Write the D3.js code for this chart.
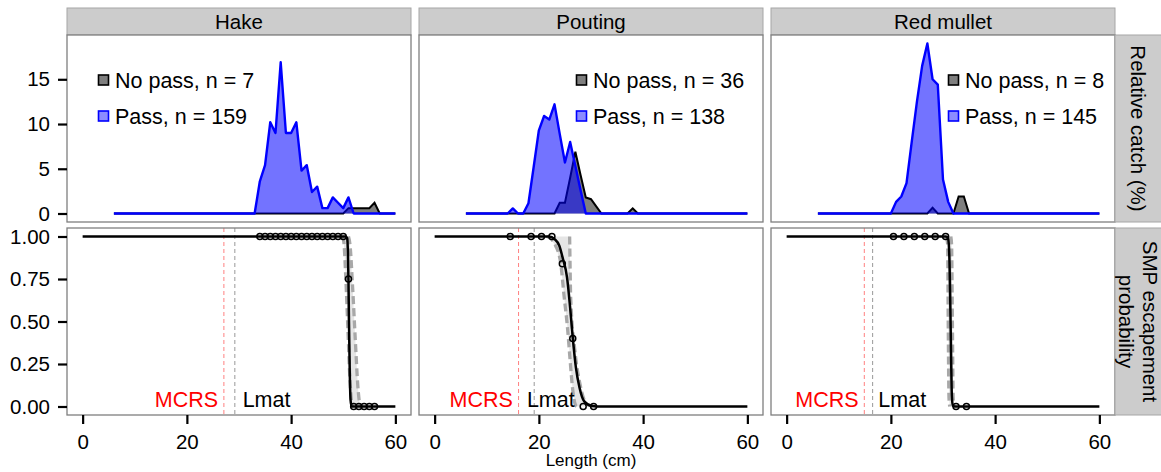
<!DOCTYPE html>
<html>
<head>
<meta charset="utf-8">
<script src="https://cdn.jsdelivr.net/npm/d3@7/dist/d3.min.js"></script>
<style>
  body { margin: 0; background: #fff; }
  text { font-family: "Liberation Sans", Arial, Helvetica, sans-serif; }
</style>
</head>
<body>
<svg id="chart" width="1161" height="472"></svg>
<script>
// ---- data ----
var species = ["Hake", "Pouting", "Red mullet"];
var nPass = [159, 138, 145],
    nNoPass = [7, 36, 8];

// relative catch (%) by length (cm)
var hakePassLen = [6, 33, 34, 35, 36, 37, 38, 39, 40, 41, 42, 43, 44, 45, 46, 47, 48, 49, 50, 51, 52, 60];
var hakePassVal = [0, 0, 3.6, 5.4, 10.2, 9.0, 16.9, 9.0, 9.0, 10.2, 4.8, 5.4, 2.4, 3.0, 0.6, 0.6, 1.8, 1.2, 0.6, 1.8, 0, 0];
var hakeNoPassLen = [6, 50, 51, 52, 53, 54, 55, 56, 57, 60];
var hakeNoPassVal = [0, 0, 0.6, 0.6, 0.6, 0.6, 0.6, 1.2, 0, 0];

var poutPassLen = [6, 14, 15, 16, 17, 18, 19, 20, 21, 22, 23, 24, 25, 26, 27, 28, 29, 60];
var poutPassVal = [0, 0, 0.57, 0, 0, 1.15, 5.2, 9.3, 10.9, 10.5, 12.2, 8.9, 5.7, 8.0, 5.3, 2.6, 0, 0];
var poutNoPassLen = [6, 23, 24, 25, 26, 27, 28, 29, 30, 31, 32, 37, 38, 39, 60];
var poutNoPassVal = [0, 0, 1.2, 1.2, 4.0, 6.9, 4.3, 1.8, 1.6, 0.8, 0, 0, 0.57, 0, 0];

var mulletPassLen = [6, 20, 21, 22, 23, 24, 25, 26, 27, 28, 29, 30, 31, 32, 60];
var mulletPassVal = [0, 0, 1.3, 1.9, 3.4, 8.0, 12.5, 16.5, 19.0, 15.0, 14.4, 3.8, 1.3, 0, 0];
var mulletNoPassLen = [6, 27, 28, 29, 32, 33, 34, 35, 60];
var mulletNoPassVal = [0, 0, 0.65, 0, 0, 1.9, 1.9, 0, 0];

// escapement probability: fitted curve, CI bounds, observed points
var hakeFitLen = [0, 50.5, 50.75, 50.9, 51.0, 51.1, 51.25, 51.4, 51.6, 60];
var hakeFitP   = [1, 1, 0.99, 0.9, 0.75, 0.5, 0.2, 0.04, 0, 0];
var hakeLoLen = [49.8, 50.1, 50.5, 50.9, 51.3, 51.7, 51.9];
var hakeLoP   = [1, 0.97, 0.75, 0.45, 0.15, 0.01, 0];
var hakeHiLen = [51.0, 51.3, 51.8, 52.3, 52.8, 53.2];
var hakeHiP   = [1, 0.95, 0.7, 0.4, 0.12, 0];
var hakeObsLen = [34, 35, 36, 37, 38, 39, 40, 41, 42, 43, 44, 45, 46, 47, 48, 49, 50, 51, 52, 53, 54, 55, 56];
var hakeObsP   = [1, 1, 1, 1, 1, 1, 1, 1, 1, 1, 1, 1, 1, 1, 1, 1, 1, 0.75, 0, 0, 0, 0, 0];

var poutFitLen = [0, 22, 23, 23.9, 24.6, 25.4, 26, 26.5, 27.1, 27.8, 28.7, 30.2, 32, 60];
var poutFitP   = [1, 1, 0.985, 0.947, 0.87, 0.76, 0.58, 0.405, 0.23, 0.11, 0.03, 0.003, 0, 0];
var poutLoLen = [21.5, 21.9, 23.2, 24.2, 24.8, 25.5, 26.0, 26.45, 27.0, 27.3];
var poutLoP   = [1, 0.995, 0.947, 0.84, 0.66, 0.46, 0.27, 0.11, 0.01, 0];
var poutHiLen = [25.9, 26.0, 26.1, 26.9, 27.9, 29.3, 31];
var poutHiP   = [1, 0.8, 0.64, 0.33, 0.13, 0.01, 0];
var poutObsLen = [14.5, 18.5, 20.5, 22.5, 24.5, 26.5, 28.5, 30.5];
var poutObsP   = [1, 1, 1, 1, 0.84, 0.40, 0, 0];

var mulletFitLen = [0, 30.6, 31.0, 31.25, 31.4, 31.55, 31.7, 31.9, 32.2, 60];
var mulletFitP   = [1, 1, 0.985, 0.85, 0.6, 0.3, 0.06, 0.005, 0, 0];
var mulletLoLen = [30.7, 30.9, 31.0, 31.15, 31.3];
var mulletLoP   = [1, 0.95, 0.5, 0.05, 0];
var mulletHiLen = [31.5, 31.65, 31.8, 31.95, 32.1];
var mulletHiP   = [1, 0.95, 0.5, 0.05, 0];
var mulletObsLen = [20.5, 22.5, 24.5, 26.5, 28.5, 30.5, 32.5, 34.5];
var mulletObsP   = [1, 1, 1, 1, 1, 1, 0, 0];

var mcrs = [27.1, 16.1, 14.9],
    lmat = [29.2, 19.1, 16.5],
    lmatLabelAt = [30.7, 17.7, 17.6];

var catchTicks = [0, 5, 10, 15],
    probTicks = [0, 0.25, 0.5, 0.75, 1],
    lenTicks = [0, 20, 40, 60];

// ---- layout ----
var panelLeft = [67, 419, 771],
    panelW = 344, panelH = 187,
    topY = 35, botY = 228,
    stripY = 8, stripH = 27,
    rightStripX = 1115,
    legendX = [31, 157, 177];

function pts(len, val) { return len.map(function(l, i) { return [l, val[i]]; }); }

var catchData = [
  {pass: pts(hakePassLen, hakePassVal), noPass: pts(hakeNoPassLen, hakeNoPassVal)},
  {pass: pts(poutPassLen, poutPassVal), noPass: pts(poutNoPassLen, poutNoPassVal)},
  {pass: pts(mulletPassLen, mulletPassVal), noPass: pts(mulletNoPassLen, mulletNoPassVal)}
];
var probData = [
  {fit: pts(hakeFitLen, hakeFitP), lo: pts(hakeLoLen, hakeLoP), hi: pts(hakeHiLen, hakeHiP), obs: pts(hakeObsLen, hakeObsP)},
  {fit: pts(poutFitLen, poutFitP), lo: pts(poutLoLen, poutLoP), hi: pts(poutHiLen, poutHiP), obs: pts(poutObsLen, poutObsP)},
  {fit: pts(mulletFitLen, mulletFitP), lo: pts(mulletLoLen, mulletLoP), hi: pts(mulletHiLen, mulletHiP), obs: pts(mulletObsLen, mulletObsP)}
];

var svg = d3.select("#chart");

var x = d3.scaleLinear().domain([-3, 63]).range([0, panelW]);
var yTop = d3.scaleLinear().domain([-0.95, 19.95]).range([panelH, 0]);
var yBot = d3.scaleLinear().domain([-0.05, 1.05]).range([panelH, 0]);

var catchArea = d3.area().x(d => x(d[0])).y0(yTop(0)).y1(d => yTop(d[1]));
var catchLine = d3.line().x(d => x(d[0])).y(d => yTop(d[1]));
var probLine = d3.line().x(d => x(d[0])).y(d => yBot(d[1])).curve(d3.curveMonotoneX);
var ribbonLine = d3.line().x(d => x(d[0])).y(d => yBot(d[1]));

function styleAxis(g) {
  g.select(".domain").remove();
  g.selectAll(".tick line").attr("stroke", "#000").attr("stroke-width", 2.2);
  g.selectAll(".tick text").attr("fill", "#000").style("font-size", "20.5px")
    .style("font-family", "'Liberation Sans', Arial, sans-serif");
}

species.forEach(function(name, i) {
  var px = panelLeft[i];

  // strip on top
  svg.append("rect")
    .attr("x", px).attr("y", stripY).attr("width", panelW).attr("height", stripH)
    .attr("fill", "#cccccc").attr("stroke", "#a6a6a6").attr("stroke-width", 1);
  svg.append("text")
    .attr("x", px + panelW / 2).attr("y", stripY + stripH / 2).attr("dy", "0.35em")
    .attr("text-anchor", "middle").style("font-size", "20.5px").text(name);

  // ---- top: relative catch ----
  var gt = svg.append("g").attr("transform", `translate(${px},${topY})`);
  gt.append("rect").attr("width", panelW).attr("height", panelH).attr("fill", "#fff");

  var cd = catchData[i];
  gt.append("path").datum(cd.noPass).attr("d", catchArea).attr("fill", "rgba(0,0,0,0.5)");
  gt.append("path").datum(cd.noPass).attr("d", catchLine)
    .attr("fill", "none").attr("stroke", "#000").attr("stroke-width", 2);
  gt.append("path").datum(cd.pass).attr("d", catchArea).attr("fill", "rgba(0,0,255,0.55)");
  gt.append("path").datum(cd.pass).attr("d", catchLine)
    .attr("fill", "none").attr("stroke", "#0000ff").attr("stroke-width", 2.4)
    .attr("stroke-linejoin", "round");

  // legend
  var lg = gt.append("g").attr("transform", `translate(${legendX[i]},0)`);
  var keys = [
    {fill: "rgba(0,0,0,0.5)", stroke: "#000", label: `No pass, n = ${nNoPass[i]}`, y: 45},
    {fill: "rgba(0,0,255,0.45)", stroke: "#0000ff", label: `Pass, n = ${nPass[i]}`, y: 81}
  ];
  keys.forEach(function(k) {
    lg.append("rect").attr("x", 0.5).attr("y", k.y - 5).attr("width", 10).attr("height", 10)
      .attr("fill", k.fill).attr("stroke", k.stroke).attr("stroke-width", 1.6);
    lg.append("text").attr("x", 17).attr("y", k.y).attr("dy", "0.36em")
      .style("font-size", "21.5px").text(k.label);
  });

  gt.append("rect").attr("width", panelW).attr("height", panelH)
    .attr("fill", "none").attr("stroke", "#7f7f7f").attr("stroke-width", 1.3);

  // ---- bottom: escapement probability ----
  var gb = svg.append("g").attr("transform", `translate(${px},${botY})`);
  gb.append("rect").attr("width", panelW).attr("height", panelH).attr("fill", "#fff");

  var pd = probData[i];
  gb.append("path").datum(pd.lo.concat(pd.hi.slice().reverse()))
    .attr("d", d => ribbonLine(d) + "Z").attr("fill", "rgba(0,0,0,0.1)");

  gb.append("line").attr("x1", x(mcrs[i])).attr("x2", x(mcrs[i]))
    .attr("y1", 0).attr("y2", panelH)
    .attr("stroke", "#ff8080").attr("stroke-width", 1).attr("stroke-dasharray", "4,3");
  gb.append("line").attr("x1", x(lmat[i])).attr("x2", x(lmat[i]))
    .attr("y1", 0).attr("y2", panelH)
    .attr("stroke", "#999999").attr("stroke-width", 1).attr("stroke-dasharray", "4,3");

  [pd.lo, pd.hi].forEach(function(b) {
    gb.append("path").datum(b).attr("d", probLine)
      .attr("fill", "none").attr("stroke", "#a8a8a8").attr("stroke-width", 3.3)
      .attr("stroke-dasharray", "8,4");
  });

  gb.append("path").datum(pd.fit).attr("d", probLine)
    .attr("fill", "none").attr("stroke", "#000").attr("stroke-width", 2.5);

  gb.selectAll("circle.obs").data(pd.obs).enter().append("circle")
    .attr("class", "obs")
    .attr("cx", d => x(d[0])).attr("cy", d => yBot(d[1])).attr("r", 3)
    .attr("fill", "none").attr("stroke", "#000").attr("stroke-width", 1.5);

  gb.append("text").attr("x", x(mcrs[i] - 1.1)).attr("y", yBot(0))
    .attr("text-anchor", "end").attr("fill", "#ff0000")
    .style("font-size", "21.5px").text("MCRS");
  gb.append("text").attr("x", x(lmatLabelAt[i])).attr("y", yBot(0))
    .attr("fill", "#000").style("font-size", "21.5px").text("Lmat");

  gb.append("rect").attr("width", panelW).attr("height", panelH)
    .attr("fill", "none").attr("stroke", "#7f7f7f").attr("stroke-width", 1.3);

  // x axis
  svg.append("g").attr("transform", `translate(${px},${botY + panelH})`)
    .call(d3.axisBottom(x).tickValues(lenTicks).tickSize(9).tickPadding(10.5).tickFormat(d3.format("d")))
    .call(styleAxis);
});

// y axes
svg.append("g").attr("transform", `translate(${panelLeft[0]},${topY})`)
  .call(d3.axisLeft(yTop).tickValues(catchTicks).tickSize(9).tickPadding(8).tickFormat(d3.format("d")))
  .call(styleAxis);
svg.append("g").attr("transform", `translate(${panelLeft[0]},${botY})`)
  .call(d3.axisLeft(yBot).tickValues(probTicks).tickSize(9).tickPadding(8).tickFormat(d3.format(".2f")))
  .call(styleAxis);

// right strips
var rsW = 1161 - rightStripX;
[[topY, ["Relative catch (%)"]], [botY, ["SMP escapement", "probability"]]].forEach(function(s) {
  svg.append("rect").attr("x", rightStripX).attr("y", s[0]).attr("width", rsW + 2).attr("height", panelH)
    .attr("fill", "#cccccc").attr("stroke", "#a6a6a6").attr("stroke-width", 1);
  var cx = rightStripX + rsW / 2, cy = s[0] + panelH / 2;
  var t = svg.append("text")
    .attr("transform", `translate(${cx},${cy}) rotate(90)`)
    .attr("text-anchor", "middle").style("font-size", "20.5px");
  var n = s[1].length;
  s[1].forEach(function(line, j) {
    t.append("tspan").attr("x", 0).attr("y", (j - (n - 1) / 2) * 23.5).attr("dy", "0.35em").text(line);
  });
});

// x axis title
svg.append("text")
  .attr("x", panelLeft[1] + panelW / 2).attr("y", 465.5)
  .attr("text-anchor", "middle").style("font-size", "17px").text("Length (cm)");
</script>
</body>
</html>
